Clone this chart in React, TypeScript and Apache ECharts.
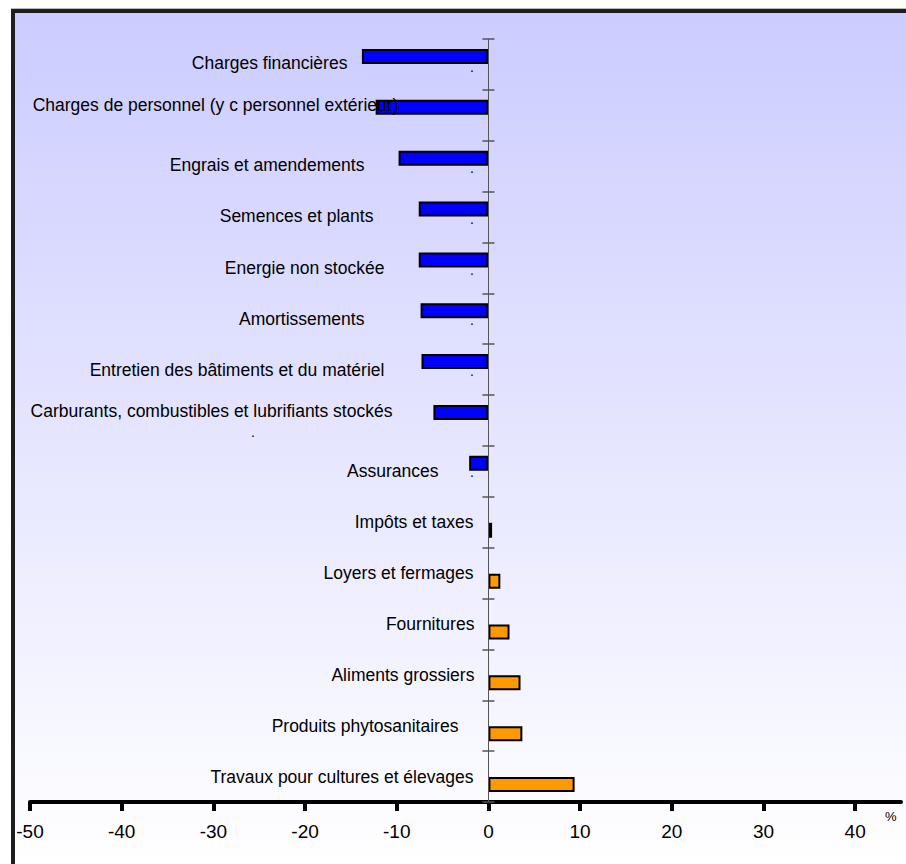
import React, { useEffect, useRef } from "react";
import * as echarts from "echarts";

const categories = [
  "Charges financières",
  "Charges de personnel (y c personnel extérieur)",
  "Engrais et amendements",
  "Semences et plants",
  "Energie non stockée",
  "Amortissements",
  "Entretien des bâtiments et du matériel",
  "Carburants, combustibles et lubrifiants stockés",
  "Assurances",
  "Impôts et taxes",
  "Loyers et fermages",
  "Fournitures",
  "Aliments grossiers",
  "Produits phytosanitaires",
  "Travaux pour cultures et élevages",
];

const decreases: (number | string)[] = [
  -13.8, -12.3, -9.8, -7.6, -7.6, -7.4, -7.3, -6.0, -2.1, "-", "-", "-", "-", "-", "-",
];
const increases: (number | string)[] = [
  "-", "-", "-", "-", "-", "-", "-", "-", "-", 0.4, 1.3, 2.3, 3.5, 3.7, 9.4,
];

const xMin = -50;
const xMax = 45;
const xTicks = [-50, -40, -30, -20, -10, 0, 10, 20, 30, 40];
const unitLabel = "%";

// layout only: extra right padding and upward shift of each category label
const labelPadRight = [133, 82, 116, 107, 96, 116, 96, 88, 42, 7, 7, 6, 6, 22, 7];
const labelShiftUp = [1, 10, 1, 1, 0, 0, 0, 10, 0, 0, 0, 0, 0, 0, 0];

const FONT = "'Liberation Sans', Arial, Helvetica, sans-serif";
const W = 906;
const H = 864;
const GRID = { left: 30, right: 5, top: 39, bottom: 62 };

export default function App() {
  const ref = useRef<HTMLDivElement>(null);

  useEffect(() => {
    if (!ref.current) return;
    const chart = echarts.init(ref.current, null, { renderer: "svg" });

    const rich: Record<string, any> = {};
    categories.forEach((_, i) => {
      rich["r" + i] = {
        fontSize: 17.5,
        fontFamily: FONT,
        color: "#000",
        padding: [0, labelPadRight[i], labelShiftUp[i] * 2, 0],
      };
    });

    // place the category axis at value 0 of the x axis
    const gridWidth = W - GRID.left - GRID.right;
    const zeroOffset = -((0 - xMin) / (xMax - xMin)) * gridWidth;

    const dots = [
      [470, 60], [470, 161], [470, 212], [470, 263], [470, 313], [470, 364], [251, 425], [470, 465],
    ];

    const option: any = {
      animation: false,
      graphic: [
        {
          type: "rect",
          z: -10,
          silent: true,
          shape: { x: 15, y: 13, width: 891, height: 851 },
          style: {
            fill: new echarts.graphic.LinearGradient(0, 0, 0, 1, [
              { offset: 0, color: "#ccccff" },
              { offset: 1, color: "#ffffff" },
            ]),
          },
        },
        { type: "rect", z: 10, silent: true, shape: { x: 11, y: 8, width: 895, height: 1 }, style: { fill: "#bbbbbb" } },
        { type: "rect", z: 10, silent: true, shape: { x: 11, y: 9, width: 895, height: 4 }, style: { fill: "#1e1e1e" } },
        { type: "rect", z: 10, silent: true, shape: { x: 11, y: 9, width: 4, height: 855 }, style: { fill: "#1e1e1e" } },
        ...dots.map(([x, y]) => ({
          type: "text",
          z: 10,
          silent: true,
          x,
          y,
          style: { text: ".", fontSize: 14, fontFamily: FONT, fill: "#000" },
        })),
      ],
      grid: { ...GRID, containLabel: false, outerBoundsMode: "none" },
      xAxis: {
        type: "value",
        min: xMin,
        max: xMax,
        interval: 10,
        splitLine: { show: false },
        axisLine: { show: true, onZero: false, lineStyle: { color: "#000", width: 4 } },
        axisTick: {
          show: true,
          length: 9,
          customValues: xTicks,
          lineStyle: { color: "#000", width: 4 },
        },
        axisLabel: {
          customValues: xTicks,
          fontSize: 19,
          fontFamily: FONT,
          color: "#000",
          margin: 20,
        },
        name: unitLabel,
        nameLocation: "end",
        nameGap: -16,
        nameTextStyle: {
          fontSize: 13,
          fontFamily: FONT,
          color: "#000",
          verticalAlign: "top",
          padding: [8, 0, 0, 0],
        },
        z: 3,
      },
      yAxis: [
        {
          type: "category",
          data: categories,
          inverse: true,
          position: "left",
          offset: zeroOffset,
          z: 5,
          axisLine: { show: true, onZero: false, lineStyle: { color: "#555", width: 1 } },
          axisTick: { show: true, length: 6, lineStyle: { color: "#555", width: 1.5 } },
          axisLabel: {
            margin: 8,
            formatter: (v: string, i: number) => `{r${i}|${v}}`,
            rich,
          },
          splitLine: { show: false },
        },
        {
          type: "category",
          data: categories,
          inverse: true,
          position: "left",
          offset: zeroOffset,
          z: 5,
          axisLine: { show: false, onZero: false },
          axisTick: { show: true, inside: true, length: 6, lineStyle: { color: "#555", width: 1.5 } },
          axisLabel: { show: false },
          splitLine: { show: false },
        },
      ],
      series: [
        {
          type: "bar",
          name: "Baisse",
          data: decreases,
          yAxisIndex: 0,
          barWidth: 15,
          barGap: "7%",
          itemStyle: { color: "#0000ff", borderColor: "#000", borderWidth: 2 },
        },
        {
          type: "bar",
          name: "Hausse",
          data: increases,
          yAxisIndex: 0,
          barWidth: 15,
          barGap: "7%",
          itemStyle: { color: "#ff9900", borderColor: "#000", borderWidth: 2 },
        },
      ],
    };

    chart.setOption(option);
    return () => chart.dispose();
  }, []);

  return (
    <div
      ref={ref}
      style={{ position: "absolute", left: 0, top: 0, width: W, height: H }}
    />
  );
}
